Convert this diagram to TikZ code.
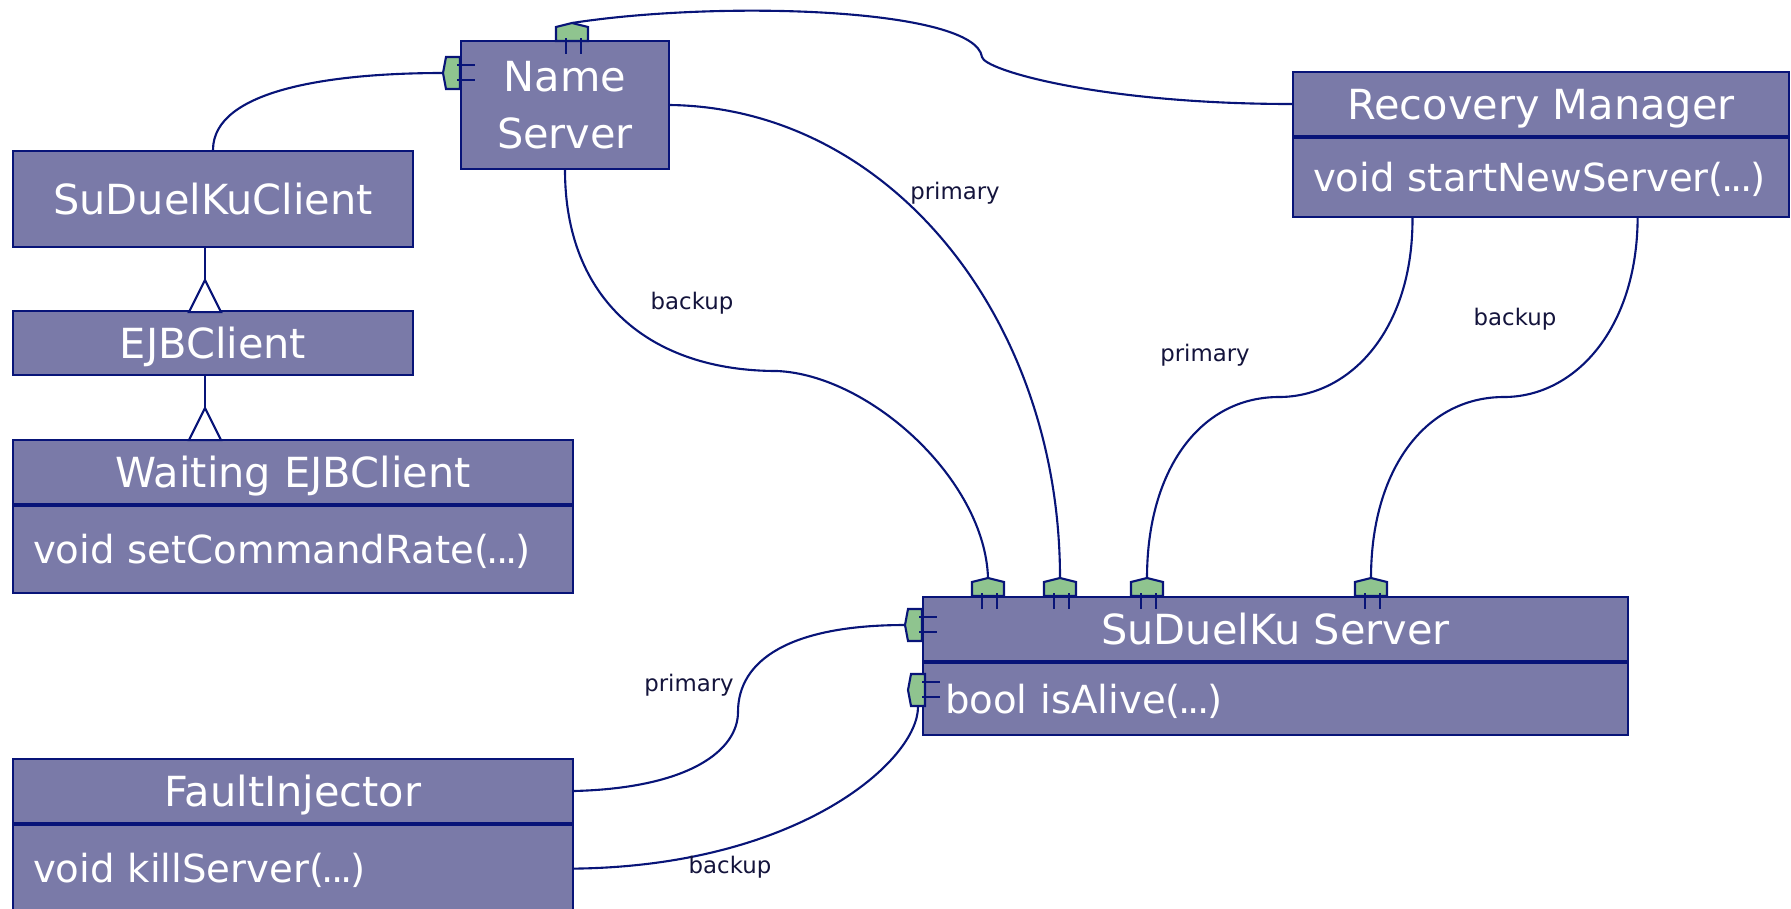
\documentclass[tikz,border=0pt]{standalone}
\usepackage{fontspec}
\setmainfont{DejaVu Sans}
\usetikzlibrary{positioning,calc}

\definecolor{clsfill}{RGB}{122,122,168}
\definecolor{clsline}{RGB}{8,20,120}
\definecolor{portfill}{RGB}{143,196,143}
\definecolor{lbltext}{RGB}{20,20,60}
\newcommand{\clsfont}{\fontsize{11.8}{16.2}\selectfont}
\newcommand{\opsfont}{\fontsize{11}{13}\selectfont}
\newcommand{\lblfont}{\fontsize{6.5}{8}\selectfont}
\newcommand{\argdots}{(\kern-.06em.\kern-.08em.\kern-.08em.\kern-.06em)}

\begin{document}
\begin{tikzpicture}[x=0.1mm, y=-0.1mm,
        cls/.style={draw=clsline, fill=clsfill, text=white, font=\clsfont,
            line width=0.6pt, inner sep=0pt},
        row/.style={text height=8.6pt, text depth=0pt},
        ops/.style={cls, row, font=\opsfont, align=left, inner xsep=2mm,
            text height=8pt, text width=#1},
        wire/.style={draw=clsline, line width=0.6pt},
        lbl/.style={text=lbltext, font=\lblfont},
        topport/.pic={
            \draw[wire, fill=portfill] (-16,18) -- (-16,4) -- (0,0) -- (16,4)
                -- (16,18) -- cycle;
            \draw[wire] (-6,15) -- (-6,31) (9,15) -- (9,31);
        },
        leftport/.pic={
            \draw[wire, fill=portfill] (17,-16) -- (3,-16) -- (0,0) -- (3,16)
                -- (17,16) -- cycle;
            \draw[wire] (14,-8) -- (32,-8) (14,7) -- (32,7);
        }]
        \useasboundingbox (0,0) rectangle (1791,908);

        \node[cls, minimum width=20.8mm, minimum height=12.8mm, align=center]
            (ns) at (565,105) {Name\\Server};
        \node[cls, row, minimum width=40mm, minimum height=9.6mm] (client)
            at (213,199) {SuDuelKuClient};
        \node[cls, row, minimum width=40mm, minimum height=6.4mm] (ejb)
            at (213,343) {EJBClient};
        \node[cls, row, minimum width=56mm, minimum height=6.4mm] (wait)
            at (293,472) {Waiting EJBClient};
        \node[ops=52mm, minimum height=8.7mm, below=0pt of wait] (waitOps)
            {void setCommandRate\argdots};
        \node[cls, row, minimum width=49.6mm, minimum height=6.4mm] (rm)
            at (1541,104) {Recovery Manager};
        \node[ops=45.6mm, minimum height=7.9mm, below=0pt of rm] (rmOps)
            {void startNewServer\argdots};
        \node[cls, row, minimum width=70.5mm, minimum height=6.4mm] (srv)
            at (1275.5,629) {SuDuelKu Server};
        \node[ops=66.1mm, inner xsep=2.2mm, minimum height=7.2mm,
            below=0pt of srv] (srvOps) {bool isAlive\argdots};
        \node[cls, row, minimum width=56mm, minimum height=6.4mm] (fi)
            at (293,791) {FaultInjector};
        \node[ops=52mm, minimum height=8.7mm, below=0pt of fi] (fiOps)
            {void killServer\argdots};

        % port tips
        \coordinate (nsTop) at (572,23);
        \coordinate (nsLeft) at (443,73);
        \coordinate (srvT1) at (988,578);
        \coordinate (srvT2) at (1060,578);
        \coordinate (srvT3) at (1147,578);
        \coordinate (srvT4) at (1371,578);
        \coordinate (srvL1) at (905,625);
        \coordinate (srvL2) at (908,690);
        \coordinate (srvL2b) at (918,707);

        % generalisation
        \draw[wire] ([xshift=-0.8mm]client.south) -- ++(0,32) coordinate (tri1);
        \draw[wire, fill=white] (tri1) -- ++(-16,32) -- ++(32,0) -- cycle;
        \draw[wire] ([xshift=-0.8mm]ejb.south) -- ++(0,32) coordinate (tri2);
        \draw[wire, fill=white] (tri2) -- ++(-16,32) -- ++(32,0) -- cycle;

        \draw[wire] (client.north) .. controls (213,90) and (330,73) .. (nsLeft);
        \draw[wire] (nsTop) .. controls (720,0) and (975,8) .. (982,57)
            .. controls (984,70) and (1100,104) .. (rm.west);
        \draw[wire] (ns.east) .. controls (891,108) and (1060,320) .. (srvT2);
        \draw[wire] (ns.south) .. controls (565,300) and (650,371) .. (777,371)
            .. controls (870,375) and (985,480) .. (srvT1);
        \draw[wire] ($(rmOps.south west)!0.242!(rmOps.south east)$)
            .. controls (1413,330) and (1350,397) .. (1279,397)
            .. controls (1200,397) and (1147,470) .. (srvT3);
        \draw[wire] ($(rmOps.south west)!0.694!(rmOps.south east)$)
            .. controls (1637,330) and (1574,397) .. (1504,397)
            .. controls (1425,397) and (1371,470) .. (srvT4);
        \draw[wire] (fi.east) .. controls (690,788) and (738,750) .. (738,712)
            .. controls (738,660) and (790,625) .. (srvL1);
        \draw[wire] (fiOps.east) .. controls (800,866) and (918,760) .. (srvL2b);

        \node[lbl] (lbNsBackup) at (692,303) {backup};
        \node[lbl] (lbNsPrimary) at (955,193) {primary};
        \node[lbl] (lbRmPrimary) at (1205,355) {primary};
        \node[lbl] (lbRmBackup) at (1515,319) {backup};
        \node[lbl] (lbFiPrimary) at (689,685) {primary};
        \node[lbl] (lbFiBackup) at (730,867) {backup};

        \pic at (nsTop) {topport};
        \pic at (nsLeft) {leftport};
        \foreach \p in {srvT1,srvT2,srvT3,srvT4}
            \pic at (\p) {topport};
        \pic at (srvL1) {leftport};
        \pic at (srvL2) {leftport};
\end{tikzpicture}
\end{document}
